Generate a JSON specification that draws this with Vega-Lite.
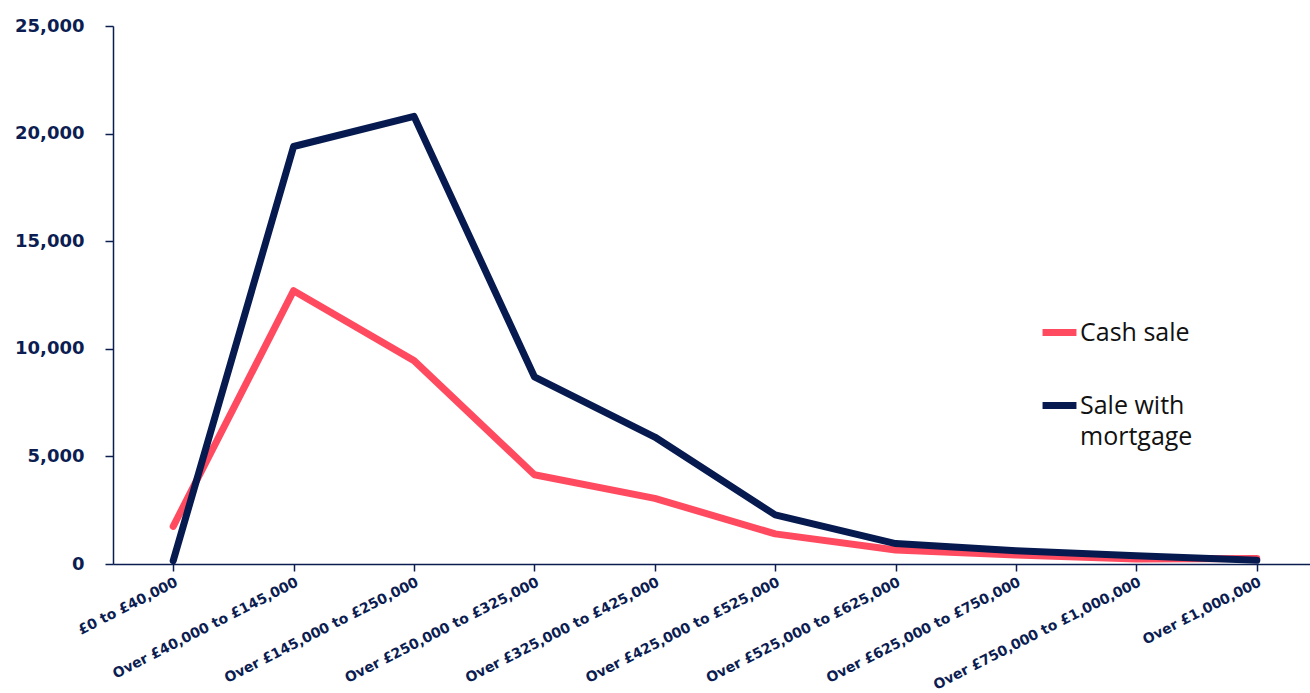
{
  "$schema": "https://vega.github.io/schema/vega-lite/v6.json",
  "autosize": "none",
  "padding": {"left": 113, "top": 26, "right": 0, "bottom": 129},
  "width": 1204,
  "height": 538,
  "background": "white",
  "config": {
    "view": {"stroke": null},
    "font": "Open Sans",
    "style": {"guide-label": {"lineHeight": 31}}
  },
  "data": {
    "values": [
      {"band": "£0 to £40,000", "type": "Cash sale", "sales": 1750},
      {"band": "Over £40,000 to £145,000", "type": "Cash sale", "sales": 12700},
      {"band": "Over £145,000 to £250,000", "type": "Cash sale", "sales": 9450},
      {"band": "Over £250,000 to £325,000", "type": "Cash sale", "sales": 4150},
      {"band": "Over £325,000 to £425,000", "type": "Cash sale", "sales": 3050},
      {"band": "Over £425,000 to £525,000", "type": "Cash sale", "sales": 1400},
      {"band": "Over £525,000 to £625,000", "type": "Cash sale", "sales": 650},
      {"band": "Over £625,000 to £750,000", "type": "Cash sale", "sales": 420},
      {"band": "Over £750,000 to £1,000,000", "type": "Cash sale", "sales": 230},
      {"band": "Over £1,000,000", "type": "Cash sale", "sales": 250},
      {"band": "£0 to £40,000", "type": "Sale with mortgage", "sales": 150},
      {"band": "Over £40,000 to £145,000", "type": "Sale with mortgage", "sales": 19400},
      {"band": "Over £145,000 to £250,000", "type": "Sale with mortgage", "sales": 20800},
      {"band": "Over £250,000 to £325,000", "type": "Sale with mortgage", "sales": 8700},
      {"band": "Over £325,000 to £425,000", "type": "Sale with mortgage", "sales": 5900},
      {"band": "Over £425,000 to £525,000", "type": "Sale with mortgage", "sales": 2280},
      {"band": "Over £525,000 to £625,000", "type": "Sale with mortgage", "sales": 950},
      {"band": "Over £625,000 to £750,000", "type": "Sale with mortgage", "sales": 620},
      {"band": "Over £750,000 to £1,000,000", "type": "Sale with mortgage", "sales": 380},
      {"band": "Over £1,000,000", "type": "Sale with mortgage", "sales": 170}
    ]
  },
  "mark": {"type": "line", "strokeWidth": 7, "strokeCap": "round", "strokeJoin": "round"},
  "encoding": {
    "x": {
      "field": "band",
      "type": "ordinal",
      "sort": null,
      "scale": {"type": "point", "padding": 0.5},
      "axis": {
        "title": null,
        "domainColor": "#0B1D51",
        "domainWidth": 1.5,
        "tickColor": "#0B1D51",
        "tickSize": 7,
        "tickWidth": 1.5,
        "labelAngle": -27,
        "labelAlign": "right",
        "labelBaseline": "top",
        "labelPadding": 4,
        "labelFont": "DejaVu Sans",
        "labelFontSize": 14,
        "labelFontWeight": "bold",
        "labelColor": "#0B1D51",
        "labelOverlap": false,
        "labelLimit": 400,
        "grid": false
      }
    },
    "y": {
      "field": "sales",
      "type": "quantitative",
      "scale": {"domain": [0, 25000], "nice": false},
      "axis": {
        "title": null,
        "values": [0, 5000, 10000, 15000, 20000, 25000],
        "format": ",.0f",
        "grid": false,
        "domainColor": "#0B1D51",
        "domainWidth": 1.5,
        "tickColor": "#0B1D51",
        "tickSize": 8,
        "tickWidth": 1.5,
        "labelFont": "DejaVu Sans",
        "labelFontSize": 18,
        "labelFontWeight": "bold",
        "labelColor": "#0B1D51",
        "labelPadding": 21
      }
    },
    "color": {
      "field": "type",
      "type": "nominal",
      "scale": {"domain": ["Cash sale", "Sale with mortgage"], "range": ["#FF4A5F", "#061A50"]},
      "legend": {
        "title": null,
        "orient": "none",
        "legendX": 926,
        "legendY": 286,
        "symbolType": "stroke",
        "symbolSize": 1150,
        "symbolStrokeWidth": 7,
        "labelFontSize": 25,
        "labelColor": "#111111",
        "labelOffset": 0,
        "rowPadding": 38,
        "labelExpr": "datum.label == 'Sale with mortgage' ? ['Sale with', 'mortgage'] : datum.label"
      }
    }
  }
}
